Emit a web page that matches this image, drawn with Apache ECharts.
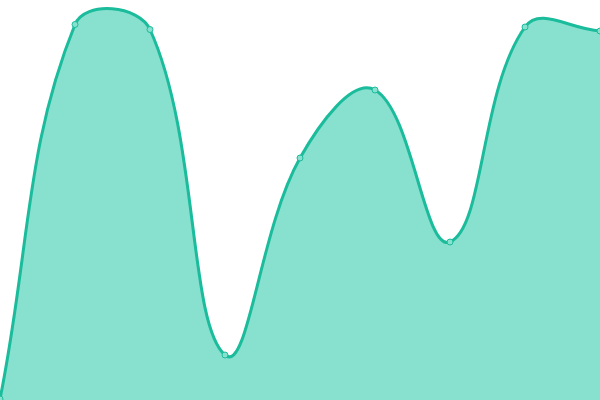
<!DOCTYPE html>
<html><head><meta charset="utf-8">
<script src="https://cdn.jsdelivr.net/npm/echarts@6/dist/echarts.min.js"></script>
<style>html,body{margin:0;padding:0;background:#fff}#c{width:600px;height:400px}</style>
</head><body><div id="c"></div>
<script>
const categories = ['A','B','C','D','E','F','G','H','I'];
const values = [1, 375.5, 370.5, 45, 242, 310, 158, 373, 369];
const TENSION = 0.4;
const chart = echarts.init(document.getElementById('c'));

function splinePath(pts, area) {
  const n = pts.length;
  const prevCp = [], nextCp = [];
  const clamp = (p) => [Math.max(area.x, Math.min(area.x + area.width, p[0])),
                        Math.max(area.y, Math.min(area.y + area.height, p[1]))];
  for (let i = 0; i < n; i++) {
    const cur = pts[i];
    const prev = i > 0 ? pts[i - 1] : cur;
    const next = i < n - 1 ? pts[i + 1] : cur;
    const d01 = Math.hypot(cur[0] - prev[0], cur[1] - prev[1]);
    const d12 = Math.hypot(next[0] - cur[0], next[1] - cur[1]);
    let s01 = d01 / (d01 + d12), s12 = d12 / (d01 + d12);
    if (!isFinite(s01)) s01 = 0;
    if (!isFinite(s12)) s12 = 0;
    const fa = TENSION * s01, fb = TENSION * s12;
    prevCp.push(clamp([cur[0] - fa * (next[0] - prev[0]), cur[1] - fa * (next[1] - prev[1])]));
    nextCp.push(clamp([cur[0] + fb * (next[0] - prev[0]), cur[1] + fb * (next[1] - prev[1])]));
  }
  let d = 'M' + pts[0][0] + ' ' + pts[0][1];
  for (let i = 0; i < n - 1; i++) {
    const a = nextCp[i], b = prevCp[i + 1], p = pts[i + 1];
    d += ' C' + a[0] + ' ' + a[1] + ' ' + b[0] + ' ' + b[1] + ' ' + p[0] + ' ' + p[1];
  }
  return d;
}

chart.setOption({
  animation: false,
  grid: {left: 0, right: 0, top: 0, bottom: 0},
  xAxis: {type: 'category', data: categories, boundaryGap: false, show: false},
  yAxis: {type: 'value', min: 0, max: 400, show: false},
  series: [{
    type: 'custom',
    data: values,
    z: 1,
    renderItem: function (params, api) {
      if (params.dataIndex !== 0) return null;
      const pts = values.map((v, i) => api.coord([i, v]));
      const cs = params.coordSys;
      const line = splinePath(pts, cs);
      const base = api.coord([0, 0])[1];
      const areaD = line + ' L' + pts[pts.length - 1][0] + ' ' + base + ' L' + pts[0][0] + ' ' + base + ' Z';
      return {
        type: 'group',
        children: [
          {type: 'path', shape: {pathData: areaD}, style: {fill: '#88E0CF', stroke: null}},
          {type: 'path', shape: {pathData: line}, style: {fill: null, stroke: '#1ABC9C', lineWidth: 3}}
        ]
      };
    }
  }, {
    type: 'line',
    data: values,
    z: 3,
    symbol: 'circle',
    symbolSize: 6,
    lineStyle: {opacity: 0},
    itemStyle: {color: '#88E0CF', borderColor: '#1ABC9C', borderWidth: 1}
  }]
});
</script></body></html>
